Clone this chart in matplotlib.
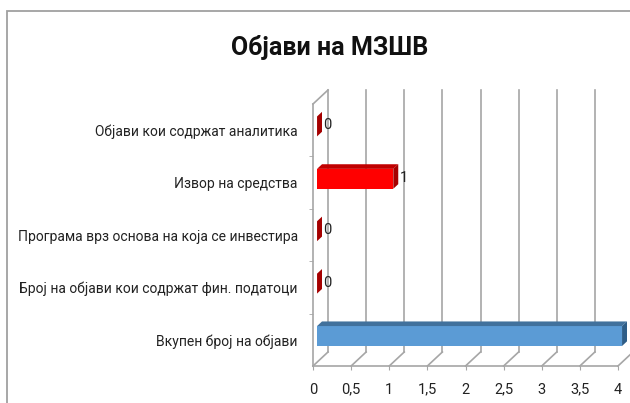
import matplotlib
matplotlib.use("Agg")
import matplotlib.pyplot as plt
from matplotlib.patches import Polygon, Rectangle

plt.rcParams['font.family'] = ['Roboto', 'DejaVu Sans']

categories = ['Вкупен број на објави',
              'Број на објави кои содржат фин. податоци',
              'Програма врз основа на која се инвестира',
              'Извор на средства',
              'Објави кои содржат аналитика']
values = [4, 0, 0, 1, 0]
front_colors = ['#5B9BD5', '#FF0000', '#FF0000', '#FF0000', '#FF0000']
top_colors = ['#41719C', '#C00000', '#C00000', '#C00000', '#C00000']
side_colors = ['#2E5D87', '#A50000', '#A50000', '#A50000', '#A50000']
xticks = [0, 0.5, 1, 1.5, 2, 2.5, 3, 3.5, 4]
xticklabels = ['0', '0,5', '1', '1,5', '2', '2,5', '3', '3,5', '4']

W, H = 630, 403
fig = plt.figure(figsize=(W / 100, H / 100), dpi=100)

# outer chart border
fig.patches.append(Rectangle((7 / W, -0.05), 1.2, 1.05 - 11 / H,
                             transform=fig.transFigure, fill=False,
                             edgecolor='#A0A0A0', lw=1.3))

ax = fig.add_axes([313 / W, 1 - 366 / H, (618 - 313) / W, (366 - 104) / H])
ax.set_xlim(0, 4)
ax.set_ylim(-0.5, len(categories) - 0.5)
ax.patch.set_alpha(0)

# depth of the 3D box, in data units
DX = 15 / (305 / 4)
DY = 14 / (262 / len(categories))
grid = dict(color='#A6A6A6', lw=1.2, clip_on=False, zorder=1)
y0, y1 = -0.5, len(categories) - 0.5

for v in xticks:
    ax.plot([v + DX, v + DX], [y0 + DY, y1 + DY], **grid)
    ax.plot([v, v + DX], [y0, y0 + DY], **grid)
ax.plot([0, 0], [y0, y1], **grid)
ax.plot([0, DX], [y1, y1 + DY], **grid)

# bars with 3D faces
d1, e, h = 0.27, 0.33, 0.38
ys = [i + d1 * DY for i in range(len(categories))]
left = d1 * DX
bars = ax.barh(ys, values, left=left, height=h, color=front_colors, zorder=3)
for b in bars:
    b.set_clip_on(False)
for y, v, tc, sc in zip(ys, values, top_colors, side_colors):
    t = y + h / 2
    b = y - h / 2
    ax.add_patch(Polygon([(left, t), (left + v, t), (left + v + e * DX, t + e * DY),
                          (left + e * DX, t + e * DY)], closed=True,
                         facecolor=tc, edgecolor='none', zorder=3, clip_on=False))
    ax.add_patch(Polygon([(left + v, b), (left + v, t), (left + v + e * DX, t + e * DY),
                          (left + v + e * DX, b + e * DY)], closed=True,
                         facecolor=sc, edgecolor='none', zorder=3, clip_on=False))
    if v < 4:
        ax.annotate(str(v), (left + v + e * DX, y + e * DY / 2), xytext=(1, -1),
                    textcoords='offset points', ha='left', va='center',
                    fontsize=10.5, color='#222222')

for s in ['top', 'right']:
    ax.spines[s].set_visible(False)
ax.spines['left'].set_visible(False)
ax.spines['bottom'].set_color('#A6A6A6')
ax.spines['bottom'].set_linewidth(1.2)

ax.set_xticks(xticks)
ax.set_xticklabels(xticklabels, fontsize=10.5, color='#222222')
ax.set_yticks(range(len(categories)))
ax.set_yticklabels(categories, fontsize=10, color='#222222')
ax.set_yticks([i + 0.5 for i in range(len(categories) - 1)], minor=True)
ax.tick_params(axis='x', length=3, color='#A6A6A6', pad=9)
ax.tick_params(axis='y', which='major', length=0, pad=11)
ax.tick_params(axis='y', which='minor', length=3, color='#A6A6A6')

fig.text(330 / W, 1 - 47 / H, 'Објави на МЗШВ', ha='center', va='center',
         fontsize=18, fontweight='bold', color='#111111')

fig.savefig('out.png', dpi=100)
